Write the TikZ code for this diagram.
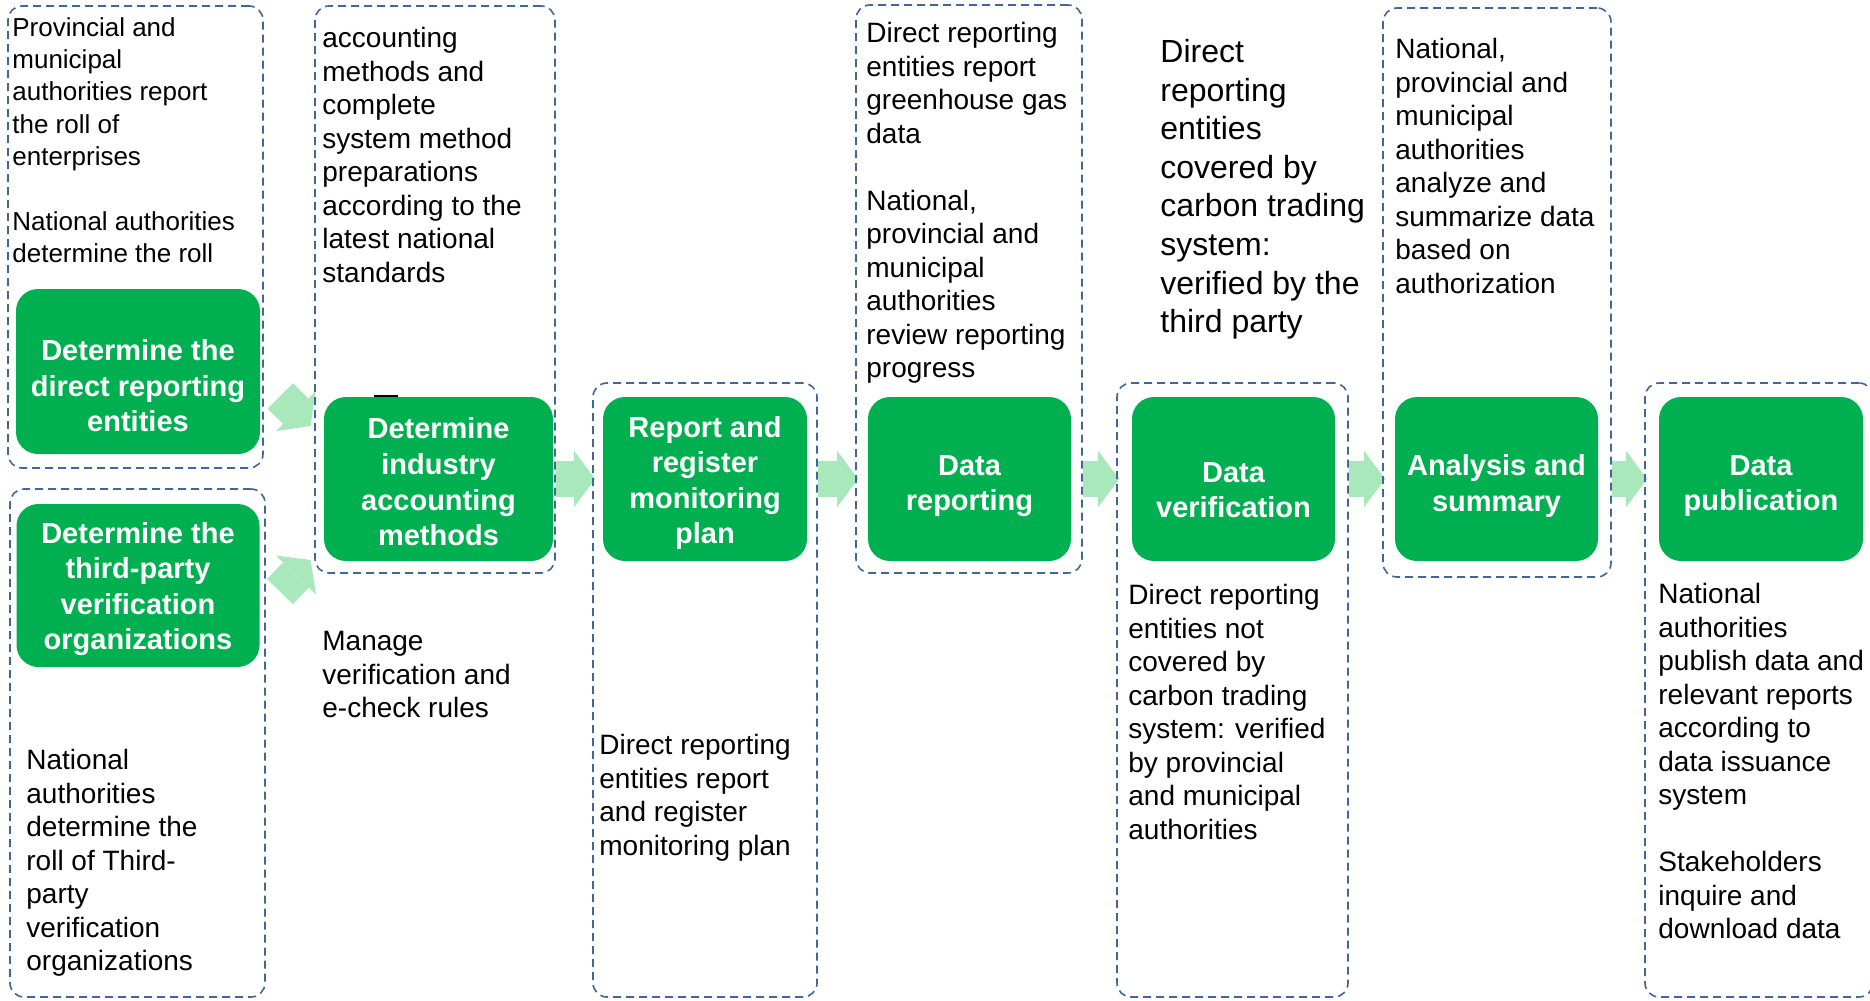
\documentclass[tikz,border=0pt]{standalone}
\usepackage{fontspec}
\setmainfont{Liberation Sans}
\usetikzlibrary{arrows.meta}
\definecolor{boxgreen}{RGB}{0,176,80}
\definecolor{arrowgreen}{RGB}{168,232,186}
\definecolor{dashblue}{RGB}{66,102,152}
\pgfdeclarelayer{back}
\pgfsetlayers{back,main}

\begin{document}
\begin{tikzpicture}[x = 0.5pt, y = -0.5pt,
		frame/.style = {draw = dashblue, line width = 0.8pt, dash pattern = on 4pt off 2.5pt, rounded corners = 7pt, inner sep = 0pt},
		stepbox/.style = {fill = boxgreen, rounded corners = 11pt, inner sep = 0pt, minimum height = 82pt},
		steplabel/.style = {text = white, align = center, inner sep = 0pt, font = \bfseries\fontsize{14.5}{17.8}\selectfont},
		note/.style = {anchor = north west, inner sep = 0pt, align = left, font = \fontsize{14}{16.75}\selectfont, execute at begin node = \strut},
		flow/.style = {draw = arrowgreen, line width = 18pt, -{Triangle[length = 10.5pt, width = 28pt, line width = 0pt]}}]
		\useasboundingbox (0, 0) rectangle (1870, 1001);
		% frames
		\node[frame, minimum width = 127.5pt, minimum height = 231pt] (dA) at (135.5, 237) {};
		\node[frame, minimum width = 127.5pt, minimum height = 254pt] (dB) at (137.5, 743) {};
		\node[frame, minimum width = 120pt, minimum height = 283.5pt] (dC) at (435, 289.5) {};
		\node[frame, minimum width = 112pt, minimum height = 307pt] (dD) at (705, 690) {};
		\node[frame, minimum width = 113pt, minimum height = 284pt] (dE) at (969, 289) {};
		\node[frame, minimum width = 115.5pt, minimum height = 307pt] (dF) at (1232.5, 690) {};
		\node[frame, minimum width = 114pt, minimum height = 284.5pt] (dG) at (1497, 292.5) {};
		\node[frame, minimum width = 114pt, minimum height = 307pt] (dH) at (1759, 690) {};
		% steps
		\node[stepbox, minimum width = 122pt, minimum height = 82.5pt] (gA) at (138, 371.5) {};
		\node[stepbox, minimum width = 121.5pt, minimum height = 81.5pt] (gB) at (138, 585.5) {};
		\node[stepbox, minimum width = 114.5pt] (gC) at (438.5, 479) {};
		\node[stepbox, minimum width = 102pt] (gD) at (705, 479) {};
		\node[stepbox, minimum width = 101.5pt] (gE) at (969.5, 479) {};
		\node[stepbox, minimum width = 101.5pt] (gF) at (1233.5, 479) {};
		\node[stepbox, minimum width = 101.5pt] (gG) at (1496.5, 479) {};
		\node[stepbox, minimum width = 102pt] (gH) at (1761, 479) {};
		\draw[line width = 1.3pt] (374, 396) -- (398, 396);
		% labels
		\node[steplabel] (lA) at (138, 386) {Determine the\\direct reporting\\entities};
		\node[steplabel] (lB) at (138, 589) {Determine the\\third-party\\verification\\organizations};
		\node[steplabel] (lC) at (438.5, 482) {Determine\\industry\\accounting\\methods};
		\node[steplabel] (lD) at (705, 483) {Report and\\register\\monitoring\\plan};
		\node[steplabel] (lE) at (969.5, 486) {Data\\reporting};
		\node[steplabel] (lF) at (1233.5, 490) {Data\\verification};
		\node[steplabel] (lG) at (1496.5, 486) {Analysis and\\summary};
		\node[steplabel] (lH) at (1761, 486) {Data\\publication};
		% texts
		\node[note, font = \fontsize{13}{16.15}\selectfont] (tA) at (12, 17) {Provincial and\\municipal\\authorities report\\the roll of\\enterprises\\[16.15pt]National authorities\\determine the roll};
		\node[note] (tB) at (26, 749) {National\\authorities\\determine the\\roll of Third-\\party\\verification\\organizations};
		\node[note] (tC) at (322, 27) {accounting\\methods and\\complete\\system method\\preparations\\according to the\\latest national\\standards};
		\node[note] (tM) at (322, 631) {Manage\\verification and\\e-check rules};
		\node[note] (tD) at (599, 734) {Direct reporting\\entities report\\and register\\monitoring plan};
		\node[note] (tE) at (866, 22) {Direct reporting\\entities report\\greenhouse gas\\data\\[16.75pt]National,\\provincial and\\municipal\\authorities\\review reporting\\progress};
		\node[note, font = \fontsize{16}{19.3}\selectfont] (tF) at (1160, 39) {Direct\\reporting\\entities\\covered by\\carbon trading\\system:\\verified by the\\third party};
		\node[note] (tF2) at (1128, 584) {Direct reporting\\entities not\\covered by\\carbon trading\\system: verified\\by provincial\\and municipal\\authorities};
		\node[note] (tG) at (1395, 38) {National,\\provincial and\\municipal\\authorities\\analyze and\\summarize data\\based on\\authorization};
		\node[note] (tH) at (1658, 583) {National\\authorities\\publish data and\\relevant reports\\according to\\data issuance\\system\\[16.75pt]Stakeholders\\inquire and\\download data};
		% arrows
		\begin{pgfonlayer}{back}
		\draw[flow] ([shift = {(20, 24.5)}]gA.east) -- ([shift = {(-13, -53)}]gC.west);
		\draw[flow] ([shift = {(20, 6)}]gB.east) -- ([shift = {(-13, 81)}]gC.west);
		\draw[flow, shorten > = -1.5pt] (dC.east |- gC) -- (dD.west |- gD);
		\draw[flow, shorten > = -1.5pt] (dD.east |- gD) -- (dE.west |- gE);
		\draw[flow, shorten > = -1.5pt] (dE.east |- gE) -- (dF.west |- gF);
		\draw[flow, shorten > = -1.5pt] (dF.east |- gF) -- (dG.west |- gG);
		\draw[flow, shorten > = -1.5pt] (dG.east |- gG) -- (dH.west |- gH);
		\end{pgfonlayer}
	\end{tikzpicture}
\end{document}
